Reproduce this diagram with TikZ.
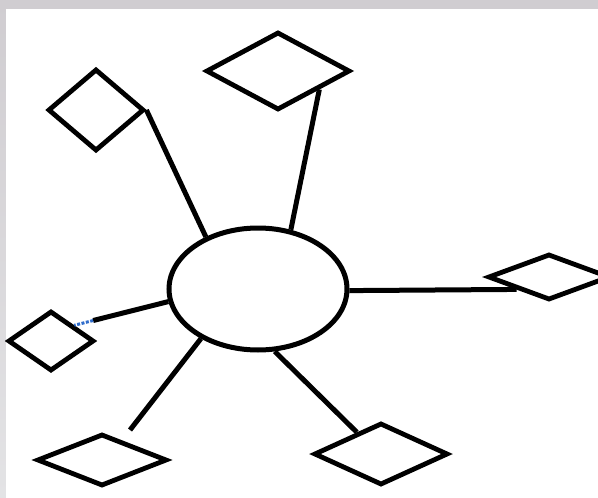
\documentclass[tikz,border=0pt]{standalone}
\usepackage{xcolor}
\usepackage{tikz}
\usetikzlibrary{shapes.geometric, calc}
\definecolor{kframe}{HTML}{D0CDD1}
\definecolor{kframelt}{HTML}{E3E3E5}
\definecolor{kselect}{HTML}{2F6CCB}

\begin{document}
\begin{tikzpicture}[x=1pt, y=-1pt,
  hub/.style={ellipse, draw=black, fill=white, line width=5pt, minimum width=178pt, minimum height=122pt, inner sep=0pt},
  leaf/.style={diamond, draw=black, fill=white, line width=4.8pt, inner sep=0pt},
  link/.style={draw=black, line width=5pt}]
\useasboundingbox (0,0) rectangle (598,498);
\shade[top color=kframe, bottom color=kframelt] (0,0) rectangle (598,498);
\fill[white] (6,9) rectangle (598,498);
% central ellipse and the six diamonds
\node[hub] (core) at (258,289) {};
\node[leaf, minimum width=96pt, minimum height=82pt] (tldia) at (96,110) {};
\node[leaf, minimum width=144pt, minimum height=78pt] (tdia) at (278,71) {};
\node[leaf, minimum width=122pt, minimum height=46pt] (rdia) at (549,277) {};
\node[leaf, minimum width=86pt, minimum height=60pt] (ldia) at (51,341) {};
\node[leaf, minimum width=130pt, minimum height=52pt] (bldia) at (102,460) {};
\node[leaf, minimum width=134pt, minimum height=62pt] (brdia) at (381,454) {};
\coordinate (bltip) at (130,430);
% spokes
\draw[link] (core.135) -- (tldia.east);
\draw[link] (core.61) -- (tdia.336);
\draw[link] (core.-1) -- (rdia.201);
\draw[link] (core.188) -- ($(core.188)!0.8!(ldia.34)$) coordinate (lsel);
\draw[kselect, line width=3pt, dash pattern=on 3pt off 1.5pt] (lsel) -- (ldia.34);
\draw[link] (core.221) -- (bltip);
\draw[link] (core.285) -- (brdia.138);
\end{tikzpicture}
\end{document}
